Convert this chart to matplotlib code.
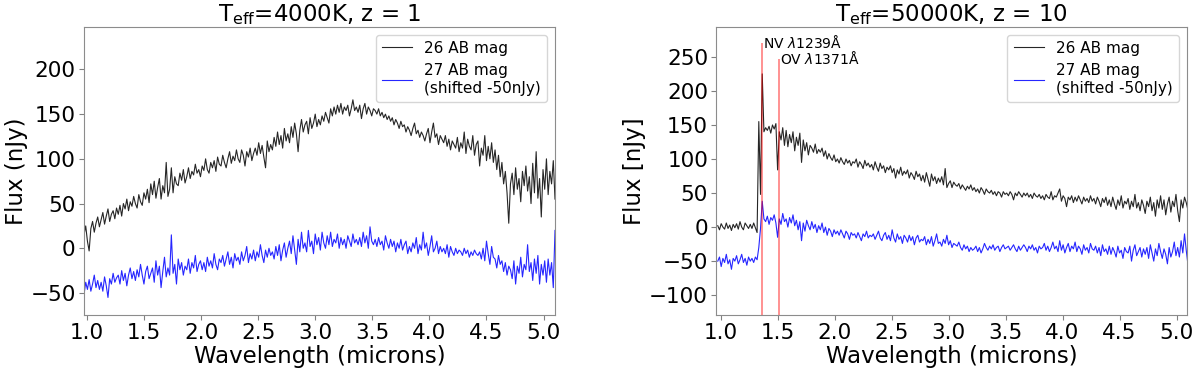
import numpy as np
import matplotlib
matplotlib.use("Agg")
import matplotlib.pyplot as plt

# wavelength grid (microns), 276 samples from 0.975 to 5.1
wavelength = np.linspace(0.975, 5.1, 276)

# Left panel: Teff=4000K, z=1
left_26 = [
    15, 25, 8, -3, 22, 30, 18, 28, 35, 24,
    32, 40, 27, 36, 44, 30, 38, 42, 33, 45,
    38, 48, 36, 50, 44, 55, 42, 52, 47, 58,
    50, 45, 60, 52, 48, 62, 55, 66, 51, 72,
    60, 75, 56, 68, 78, 55, 70, 62, 96, 58,
    66, 90, 62, 80, 72, 70, 84, 76, 88, 73,
    80, 90, 78, 86, 82, 94, 84, 88, 80, 92,
    87, 100, 88, 84, 96, 90, 98, 86, 102, 94,
    92, 104, 96, 90, 100, 108, 95, 103, 98, 110,
    100, 96, 110, 104, 92, 108, 102, 112, 98, 106,
    112, 104, 118, 106, 115, 102, 90, 120, 108, 116,
    110, 124, 114, 130, 116, 126, 112, 134, 120, 128,
    118, 136, 124, 140, 128, 108, 132, 144, 130, 138,
    142, 128, 146, 134, 140, 150, 136, 144, 138, 148,
    142, 152, 146, 140, 156, 148, 158, 150, 160, 152,
    162, 150, 158, 154, 160, 148, 156, 166, 154, 158,
    152, 160, 145, 156, 162, 150, 158, 154, 148, 156,
    154, 150, 156, 148, 152, 146, 150, 144, 148, 142,
    146, 138, 144, 140, 134, 142, 136, 138, 130, 136,
    132, 126, 134, 140, 128, 132, 124, 130, 126, 120,
    128, 134, 118, 130, 140, 124, 128, 116, 126, 122,
    118, 126, 114, 122, 110, 120, 116, 112, 124, 108,
    118, 112, 130, 106, 122, 114, 110, 126, 104, 116,
    120, 92, 112, 104, 126, 98, 114, 100, 118, 96,
    110, 88, 104, 80, 96, 72, 86, 62, 28, 72,
    84, 60, 90, 66, 78, 52, 86, 70, 92, 64,
    80, 50, 95, 62, 108, 56, 78, 35, 88, 66,
    100, 60, 86, 72, 98, 55,
]
left_27 = [
    -52, -38, -46, -35, -48, -40, -30, -44, -36, -46,
    -38, -48, -32, -42, -55, -34, -40, -28, -38, -33,
    -30, -40, -25, -36, -28, -42, -30, -22, -34, -26,
    -36, -24, -32, -18, -30, -40, -26, -20, -34, -28,
    -22, -38, -14, -30, -20, -44, -26, -10, -32, -22,
    -30, 15, -28, -18, -40, -12, -24, -16, -30, -20,
    -24, -12, -28, -16, -22, -8, -26, -18, -14, -24,
    -16, -26, -10, -20, -14, -22, -6, -18, -24, -12,
    -16, -8, -20, -12, -4, -18, -10, -22, -6, -14,
    -10, -18, -4, -14, -8, 2, -16, -6, -12, -2,
    -14, -4, -10, 4, -8, -16, -2, -10, 0, -8,
    -4, -12, 2, -8, 4, -14, -2, 6, -10, 0,
    8, -6, 14, -2, -18, 10, -4, 18, 0, 6,
    -4, 20, 2, 8, -6, 16, 4, 12, -2, 18,
    6, 0, 14, 4, 18, 2, 10, 6, 16, 0,
    12, 4, 10, 0, 14, 8, 2, 16, 6, 10,
    4, 12, 2, 18, 6, 14, 0, 24, 8, 4,
    10, 2, 12, 4, 8, -2, 14, 6, 0, 10,
    2, 8, -4, 6, 0, 10, -2, 4, 8, -6,
    2, -4, 6, 0, 12, -6, 4, -2, 18, 0,
    6, -8, 2, 14, -4, 0, 8, -6, 2, -4,
    0, -6, 4, -10, 2, -4, -8, 0, -6, -2,
    -4, -8, 0, -6, -2, -10, -4, -8, -2, -6,
    -8, -4, -12, 0, -14, 8, -6, -18, 2, -10,
    -12, -22, -8, -18, -14, -26, -16, -30, -20, -24,
    -34, -14, -40, -20, -28, -10, -32, -18, -24, 4,
    -26, -16, -36, -12, -28, -8, -40, -18, -30, -14,
    -38, -12, -30, -16, -44, 20,
]

# Right panel: Teff=50000K, z=10
right_26 = [
    2, -4, 5, 0, -3, 6, -2, 3, -5, 4,
    -1, 5, -3, 8, 0, -4, 6, 2, -2, 4,
    -2, 6, -1, -8, 155, 48, 225, 140, 146, 142,
    148, 138, 150, 144, 152, 84, 140, 128, 146, 120,
    142, 118, 136, 124, 140, 112, 132, 120, 138, 95,
    128, 112, 124, 106, 120, 116, 110, 122, 108, 114,
    110, 116, 104, 112, 100, 108, 102, 98, 106, 96,
    100, 94, 102, 96, 92, 100, 94, 98, 90, 96,
    94, 100, 88, 96, 92, 86, 98, 90, 94, 88,
    92, 84, 96, 88, 82, 94, 86, 90, 80, 88,
    84, 90, 80, 86, 72, 84, 78, 88, 76, 82,
    78, 84, 72, 80, 76, 70, 82, 74, 78, 68,
    76, 66, 80, 70, 60, 78, 68, 74, 64, 72,
    66, 74, 62, 86, 58, 64, 68, 58, 66, 62,
    60, 64, 56, 62, 58, 54, 60, 56, 62, 54,
    58, 52, 56, 50, 58, 54, 48, 56, 52, 50,
    54, 48, 52, 46, 52, 50, 44, 52, 48, 50,
    46, 52, 48, 40, 50, 46, 52, 48, 44, 50,
    46, 50, 44, 48, 42, 50, 46, 44, 48, 42,
    46, 40, 48, 44, 42, 52, 40, 46, 44, 50,
    56, 38, 46, 42, 30, 44, 40, 46, 36, 44,
    38, 46, 40, 34, 44, 38, 42, 36, 46, 38,
    42, 34, 44, 38, 30, 42, 36, 44, 32, 40,
    30, 44, 34, 26, 40, 32, 46, 28, 38, 34,
    42, 26, 38, 30, 48, 28, 36, 24, 40, 32,
    20, 38, 30, 44, 24, 36, 16, 40, 28, 46,
    26, 40, 18, 34, 44, 22, 38, 30, 48, 24,
    8, 40, 28, 44, 36, 25,
]
right_27 = [
    -50, -44, -58, -46, -52, -40, -54, -48, -62, -46,
    -50, -42, -54, -48, -40, -52, -46, -56, -44, -50,
    -46, -52, -44, -48, -30, -2, 38, 12, 8, 16,
    4, 14, 10, 18, 6, -15, 12, 4, 20, 8,
    12, 0, 14, 6, 18, 2, 10, -4, 8, -20,
    6, -6, 10, 2, -4, 8, -2, 4, -8, 2,
    -4, 6, -8, 0, -12, -2, -6, -14, -4, -10,
    -6, -12, -4, -10, -16, -6, -10, -18, -8, -12,
    -10, -16, -8, -14, -20, -10, -14, -6, -16, -12,
    -14, -10, -18, -12, -6, -16, -20, -12, -8, -18,
    -12, -20, -4, -16, -22, -10, -18, -14, -24, -12,
    -16, -22, -12, -20, -14, -26, -16, -12, -22, -18,
    -20, -14, -26, -18, -24, -14, -28, -20, -10, -24,
    -22, -28, -18, -24, -12, -26, -20, -30, -24, -26,
    -28, -22, -30, -34, -26, -32, -28, -36, -30, -34,
    -32, -28, -36, -30, -38, -32, -24, -30, -34, -28,
    -32, -26, -34, -30, -28, -36, -30, -26, -32, -30,
    -28, -34, -30, -26, -32, -36, -28, -34, -30, -26,
    -30, -36, -28, -32, -26, -34, -30, -38, -28, -32,
    -30, -24, -34, -28, -36, -30, -22, -32, -28, -36,
    -20, -34, -26, -38, -30, -24, -36, -28, -32, -22,
    -36, -28, -32, -40, -26, -34, -30, -38, -24, -32,
    -34, -28, -38, -30, -42, -26, -36, -32, -40, -28,
    -40, -30, -36, -44, -28, -38, -34, -46, -30, -36,
    -38, -28, -50, -34, -26, -42, -36, -30, -44, -32,
    -40, -30, -46, -26, -38, -50, -32, -42, -24, -36,
    -46, -32, -40, -54, -30, -44, -36, -22, -42, -30,
    -44, -20, -38, -10, -34, -55,
]

# emission lines (rest wavelength in Angstrom), z=10
line_names = ["NV $\\lambda$1239Å", "OV $\\lambda$1371Å"]
line_rest = [1239, 1371]
line_tops = [271, 247]
z_right = 10

titles = ["T$_{\\rm eff}$=4000K, z = 1", "T$_{\\rm eff}$=50000K, z = 10"]
ylabels = ["Flux (nJy)", "Flux [nJy]"]
legend_labels = ["26 AB mag", "27 AB mag\n(shifted -50nJy)"]

plt.rcParams['font.family'] = ['DejaVu Sans']
fig = plt.figure(figsize=(12, 3.74), dpi=100)
ax1 = fig.add_axes([0.07, 0.158, 0.3925, 0.770])
ax2 = fig.add_axes([0.597, 0.158, 0.392, 0.770])

for ax, s26, s27, title, ylab in [
    (ax1, left_26, left_27, titles[0], ylabels[0]),
    (ax2, right_26, right_27, titles[1], ylabels[1]),
]:
    ax.plot(wavelength, s26, color='black', lw=0.8, alpha=0.85, label=legend_labels[0])
    ax.plot(wavelength, s27, color='blue', lw=0.8, alpha=0.85, label=legend_labels[1])
    ax.set_title(title, fontsize=16.5, pad=3)
    ax.set_xlabel("Wavelength (microns)", fontsize=16.5, labelpad=1)
    ax.set_ylabel(ylab, fontsize=16.5, labelpad=2)
    ax.tick_params(labelsize=15.5, color='0.5', pad=2.5)
    for sp in ax.spines.values():
        sp.set_color('0.55')
    ax.set_xticks([1.0, 1.5, 2.0, 2.5, 3.0, 3.5, 4.0, 4.5, 5.0])
    ax.legend(loc='upper right', fontsize=11)

ax1.set_xlim(0.975, 5.1)
ax1.set_ylim(-74.5, 247.5)
ax1.set_yticks([-50, 0, 50, 100, 150, 200])

ax2.set_xlim(0.963, 5.09)
ax2.set_ylim(-129, 294)
ax2.set_yticks([-100, -50, 0, 50, 100, 150, 200, 250])
for name, rest, top in zip(line_names, line_rest, line_tops):
    xl = rest * (1 + z_right) / 1e4
    ax2.vlines(xl, -129, top, color='red', alpha=0.5, lw=1.2)
    ax2.text(xl + 0.01, top, name, fontsize=10, ha='left', va='center')

fig.savefig("out.png", dpi=100)
